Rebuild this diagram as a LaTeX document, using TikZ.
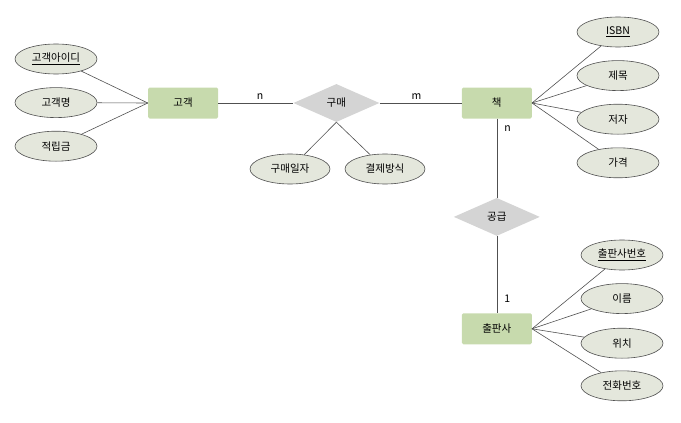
\documentclass[tikz,border=0pt]{standalone}
\usepackage{fontspec}
\setmainfont{Noto Sans CJK KR}
\usetikzlibrary{shapes, positioning}

\definecolor{entgreen}{RGB}{199,218,173}
\definecolor{attrfill}{RGB}{228,231,220}
\definecolor{relgray}{RGB}{212,212,212}
\definecolor{linegray}{RGB}{80,80,80}

\begin{document}
\begin{tikzpicture}[
    x=1pt, y=-1pt,
    font=\fontsize{10.5}{12}\selectfont,
    entity/.style={rectangle, rounded corners=1.5pt, fill=entgreen, minimum width=70pt, minimum height=31pt},
    attr/.style={ellipse, draw=linegray, line width=0.6pt, fill=attrfill, minimum width=82pt, minimum height=30pt, inner sep=0pt},
    rel/.style={diamond, fill=relgray, aspect=2.2, minimum width=86pt, minimum height=38pt, inner sep=0pt},
    link/.style={draw=linegray, line width=0.6pt}
]
    \useasboundingbox (0,0) rectangle (681,423);

    % Entities and relationships
    \node[entity] (cust) at (183,103) {고객};
    \node[rel, right=75pt of cust] (buy) {구매};
    \node[entity, right=82pt of buy] (book) {책};
    \node[rel, below=79pt of book] (supply) {공급};
    \node[entity, below=77pt of supply] (pub) {출판사};

    % Attributes
    \node[attr] (cid) at (56,59) {\underline{고객아이디}};
    \node[attr, below=13pt of cid] (cname) {고객명};
    \node[attr, below=13pt of cname] (cpoint) {적립금};

    \node[attr, minimum width=80pt] (bdate) at (290,169) {구매일자};
    \node[attr, minimum width=80pt] (bpay) at (385,169) {결제방식};

    \node[attr] (isbn) at (618,32) {\underline{ISBN}};
    \node[attr, below=13pt of isbn] (title) {제목};
    \node[attr, below=13pt of title] (author) {저자};
    \node[attr, below=13pt of author] (price) {가격};

    \node[attr] (pno) at (622,255) {\underline{출판사번호}};
    \node[attr, below=13pt of pno] (pname) {이름};
    \node[attr, below=14pt of pname] (ploc) {위치};
    \node[attr, below=12pt of ploc] (ptel) {전화번호};

    % Connectors
    \draw[link] (cust) -- node[pos=.56, above] {n} (buy);
    \draw[link] (buy) -- node[pos=.45, above] {m} (book);
    \draw[link] (book) -- node[pos=.13, right=4pt] {n} (supply);
    \draw[link] (supply) -- node[pos=.82, right=4pt] {1} (pub);
    \draw[link] (buy.south) -- (bdate);
    \draw[link] (buy.south) -- (bpay);
    \foreach \a in {cid, cname, cpoint} \draw[link] (cust.west) -- (\a);
    \foreach \a in {isbn, title, author, price} \draw[link] (book.east) -- (\a);
    \foreach \a in {pno, pname, ploc, ptel} \draw[link] (pub.east) -- (\a);
\end{tikzpicture}
\end{document}
